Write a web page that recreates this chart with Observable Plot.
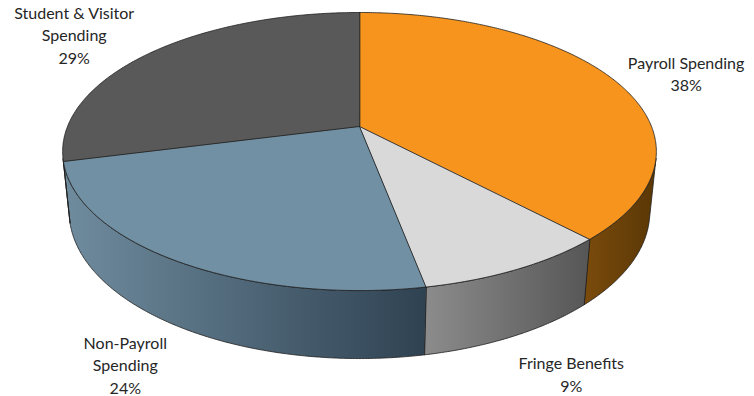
<!DOCTYPE html>
<html><head><meta charset="utf-8">
<script src="https://cdn.jsdelivr.net/npm/d3@7"></script>
<script src="https://cdn.jsdelivr.net/npm/@observablehq/plot@0.6"></script>
<style>body{margin:0;background:#fff}</style>
</head><body><div id="chart"></div>
<script>
// ---- data ----
const categories = ["Payroll Spending", "Fringe Benefits", "Non-Payroll Spending", "Student & Visitor Spending"];
const labelText = ["Payroll Spending", "Fringe Benefits", "Non-Payroll\nSpending", "Student & Visitor\nSpending"];
const values = [38, 9, 24, 29];
const topColors = ["#F7941D", "#D9D9D9", "#7190A3", "#595959"];
const wallColors = [["#7a4b0c", "#5a3705"], ["#8c8c8c", "#565656"], ["#6f8c9e", "#2f4252"], ["#606060", "#404040"]];

// ---- layout / perspective ----
const W = 754, H = 396, CX = 359, CY = 126;
const F = 1439.6, D = 4.93, SPHI = 0.4607, CPHI = Math.sqrt(1 - SPHI * SPHI), T = 0.2347;
const FONT_SIZE = 16, LINE_H = 22.5, CAP_H = 11.5, FONT = "Lato, 'Open Sans', sans-serif";
function proj(theta, r, h) {
  const u = r * Math.sin(theta), v = -r * Math.cos(theta);
  const d = D - v * CPHI - h * SPHI;
  return {x: F * u / d, y: F * (v * SPHI - h * CPHI) / d};
}
const total = d3.sum(values);
const visA = Math.acos(-1 / (D * CPHI)), visB = 2 * Math.PI - visA;
const step = Math.PI / 360;
function arc(a0, a1, r, h) {
  const n = Math.max(2, Math.ceil((a1 - a0) / step));
  return d3.range(n + 1).map(i => proj(a0 + (a1 - a0) * i / n, r, h));
}

let cum = 0;
const slices = values.map((v, i) => {
  const a0 = cum / total * 2 * Math.PI; cum += v;
  const a1 = cum / total * 2 * Math.PI;
  return {i, a0, a1, mid: (a0 + a1) / 2};
});

const marks = [];
// walls (only front-facing part)
slices.forEach(s => {
  const w0 = Math.max(s.a0, visA), w1 = Math.min(s.a1, visB);
  if (w1 > w0) {
    const pts = arc(w0, w1, 1, 0).concat(arc(w0, w1, 1, -T).reverse());
    marks.push(Plot.line(pts, {x: "x", y: "y", curve: "linear-closed", fill: `url(#wall${s.i})`, stroke: "#1e1e1e", strokeWidth: 0.8}));
  }
});
// top faces
slices.forEach(s => {
  const pts = [proj(0, 0, 0)].concat(arc(s.a0, s.a1, 1, 0));
  marks.push(Plot.line(pts, {x: "x", y: "y", curve: "linear-closed", fill: topColors[s.i], stroke: "#1e1e1e", strokeWidth: 0.8}));
});
// labels: box placed just outside the visible rim point of each slice
const ctx = document.createElement("canvas").getContext("2d");
ctx.font = `${FONT_SIZE}px Lato`;
const labels = slices.map(s => {
  const text = `${labelText[s.i]}\n${values[s.i]}%`;
  const lines = text.split("\n");
  const w = d3.max(lines, l => ctx.measureText(l).width);
  const h = (lines.length - 1) * LINE_H + CAP_H;
  const front = s.mid > visA && s.mid < visB;
  const p = proj(s.mid, 1, front ? -T : 0);
  const sx = Math.sign(Math.sin(s.mid));
  const x = p.x + sx * (w / 2 + 18 * Math.abs(Math.sin(s.mid))) - 3;
  const y = front ? p.y + 37 : p.y - h / 2 + 10;
  return {x, y, text};
});
marks.push(Plot.text(labels, {x: "x", y: "y", text: "text", fontSize: FONT_SIZE, fontFamily: FONT, fill: "#262626", lineHeight: LINE_H / FONT_SIZE, textAnchor: "middle"}));

const svg = Plot.plot({
  width: W, height: H, margin: 0,
  x: {domain: [-CX, W - CX], range: [0, W], axis: null},
  y: {domain: [-CY, H - CY], range: [0, H], axis: null},
  style: {background: "#fff"},
  marks
});
// gradient defs for walls
const NS = "http://www.w3.org/2000/svg";
const defs = document.createElementNS(NS, "defs");
wallColors.forEach((c, i) => {
  const g = document.createElementNS(NS, "linearGradient");
  g.setAttribute("id", `wall${i}`);
  g.setAttribute("x1", "0"); g.setAttribute("x2", "1"); g.setAttribute("y1", "0"); g.setAttribute("y2", "0");
  c.forEach((col, j) => {
    const st = document.createElementNS(NS, "stop");
    st.setAttribute("offset", j / (c.length - 1));
    st.setAttribute("stop-color", col);
    g.appendChild(st);
  });
  defs.appendChild(g);
});
svg.insertBefore(defs, svg.firstChild);
document.getElementById("chart").appendChild(svg);
</script>
</body></html>
